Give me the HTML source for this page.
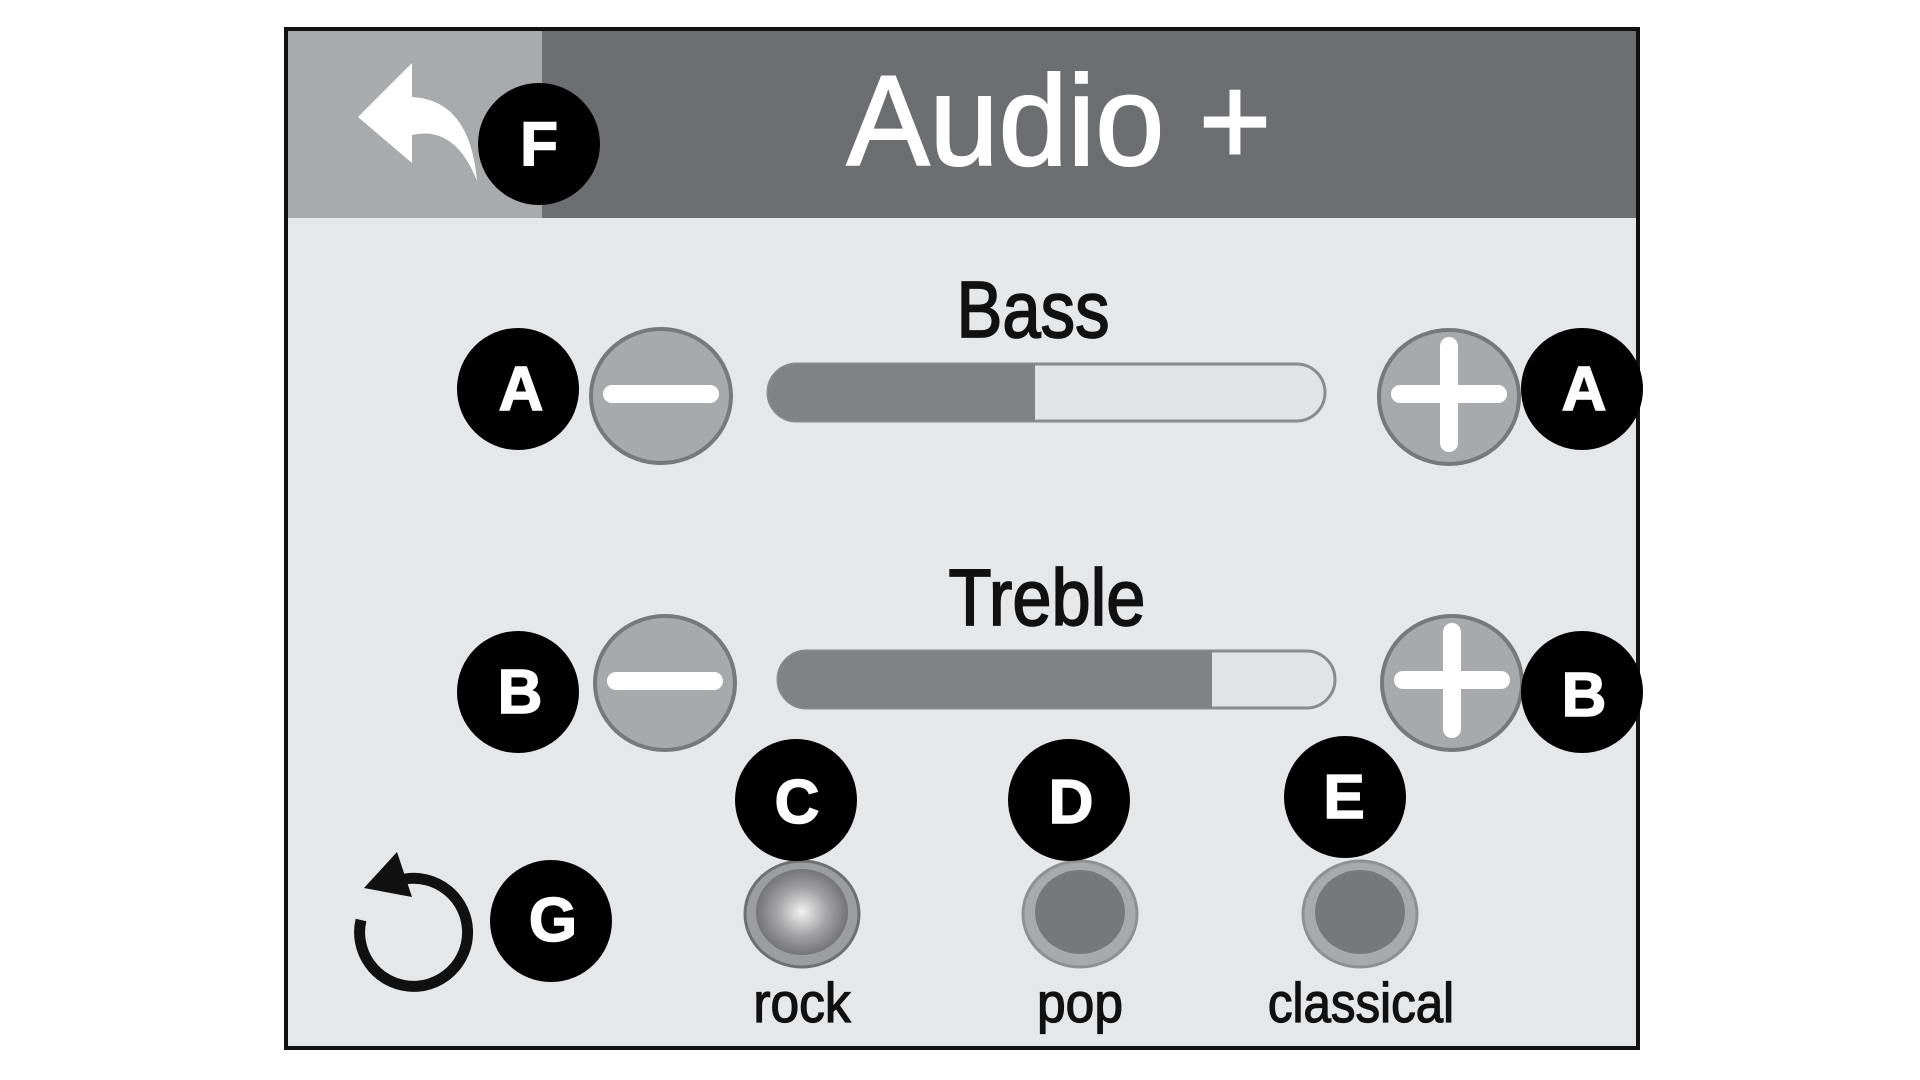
<!DOCTYPE html>
<html><head><meta charset="utf-8"><style>
html,body{margin:0;padding:0;background:#fff;width:1920px;height:1080px;overflow:hidden}
svg{display:block}
</style></head><body>
<svg width="1920" height="1080" viewBox="0 0 1920 1080" xmlns="http://www.w3.org/2000/svg">
<defs>
<radialGradient id="rk" cx="50%" cy="50%" r="55%">
<stop offset="0" stop-color="#f2f2f2"/><stop offset="0.5" stop-color="#a3a3a5"/><stop offset="1" stop-color="#6a6a6c"/>
</radialGradient>
</defs>
<rect width="1920" height="1080" fill="#fff"/>
<rect x="286" y="29" width="1352" height="1019" fill="#e6e7e9" stroke="#111" stroke-width="4"/>
<rect x="288" y="31" width="254" height="187" fill="#a9aaac"/>
<rect x="542" y="31" width="1094" height="187" fill="#6d6e72"/>
<path d="M358 117 L412 63 L412 97 Q470 100 477 181 Q455 125 412 135 L412 163 Z" fill="#fff"/>
<text x="1059" y="165" text-anchor="middle" font-family="Liberation Sans, sans-serif" font-size="128" fill="#fff" stroke="#fff" stroke-width="2" transform="translate(1059,0) scale(0.97,1) translate(-1059,0)">Audio +</text>
<text x="1033" y="337" text-anchor="middle" font-family="Liberation Sans, sans-serif" font-size="80" fill="#111" stroke="#111" stroke-width="1.8" transform="translate(1033,0) scale(0.86,1) translate(-1033,0)">Bass</text>
<rect x="768" y="364" width="557" height="57" rx="28.5" fill="#e2e3e5" stroke="#8a8b8d" stroke-width="3"/>
<path d="M796.5 364 H1035 V421 H796.5 A28.5 28.5 0 0 1 796.5 364 Z" fill="#818285"/>
<text x="1047" y="625" text-anchor="middle" font-family="Liberation Sans, sans-serif" font-size="80" fill="#111" stroke="#111" stroke-width="1.8" transform="translate(1047,0) scale(0.88,1) translate(-1047,0)">Treble</text>
<rect x="778" y="651" width="557" height="57" rx="28.5" fill="#e2e3e5" stroke="#8a8b8d" stroke-width="3"/>
<path d="M806.5 651 H1212 V708 H806.5 A28.5 28.5 0 0 1 806.5 651 Z" fill="#818285"/>
<g stroke="#77787a" stroke-width="4" fill="#a8a9ac">
<ellipse cx="661" cy="396" rx="70" ry="67"/>
<ellipse cx="1449" cy="397" rx="70" ry="67"/>
<ellipse cx="665" cy="683" rx="70" ry="67"/>
<ellipse cx="1452" cy="683" rx="70" ry="67"/>
</g>
<g stroke="#fff" stroke-width="18" stroke-linecap="round">
<line x1="612" y1="394" x2="710" y2="394"/>
<line x1="616" y1="681" x2="714" y2="681"/>
<line x1="1400" y1="394" x2="1498" y2="394"/>
<line x1="1449" y1="346" x2="1449" y2="443"/>
<line x1="1403" y1="680" x2="1501" y2="680"/>
<line x1="1452" y1="632" x2="1452" y2="729"/>
</g>
<ellipse cx="802" cy="914" rx="57" ry="53" fill="#9c9d9f" stroke="#6e6f71" stroke-width="3"/>
<ellipse cx="802" cy="912" rx="46" ry="43" fill="url(#rk)"/>
<ellipse cx="1080" cy="914" rx="57" ry="53" fill="#a8a9ab" stroke="#8e8f91" stroke-width="3"/>
<ellipse cx="1080" cy="912" rx="45" ry="42" fill="#77787a"/>
<ellipse cx="1360" cy="914" rx="57" ry="53" fill="#a8a9ab" stroke="#8e8f91" stroke-width="3"/>
<ellipse cx="1360" cy="912" rx="45" ry="42" fill="#77787a"/>
<g font-family="Liberation Sans, sans-serif" font-size="56" fill="#111" stroke="#111" stroke-width="1.3" text-anchor="middle">
<text x="802" y="1022" transform="translate(802,0) scale(0.92,1) translate(-802,0)">rock</text>
<text x="1080" y="1022" transform="translate(1080,0) scale(0.92,1) translate(-1080,0)">pop</text>
<text x="1361" y="1022" transform="translate(1361,0) scale(0.88,1) translate(-1361,0)">classical</text>
</g>
<path d="M361 920 A54 54 0 1 0 405 879" fill="none" stroke="#111" stroke-width="11"/>
<path d="M397 852 L364 888 L412 897 Z" fill="#111"/>
<g fill="#000">
<circle cx="539" cy="144" r="61"/>
<circle cx="518" cy="389" r="61"/>
<circle cx="1582" cy="389" r="61"/>
<circle cx="518" cy="692" r="61"/>
<circle cx="1582" cy="692" r="61"/>
<circle cx="796" cy="800" r="61"/>
<circle cx="1069" cy="800" r="61"/>
<circle cx="1345" cy="797" r="61"/>
<circle cx="551" cy="921" r="61"/>
</g>
<g font-family="Liberation Sans, sans-serif" font-weight="bold" font-size="62" fill="#fff" stroke="#fff" stroke-width="1.5" text-anchor="middle">
<text x="539" y="165">F</text>
<text x="521" y="410">A</text>
<text x="1584" y="410">A</text>
<text x="520" y="713">B</text>
<text x="1584" y="716">B</text>
<text x="797" y="823">C</text>
<text x="1071" y="823">D</text>
<text x="1344" y="818">E</text>
<text x="553" y="941">G</text>
</g>
</svg>
</body></html>
